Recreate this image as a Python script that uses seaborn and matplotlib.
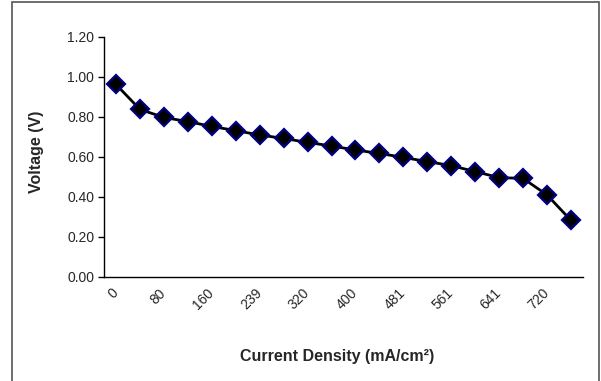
import numpy as np
import pandas as pd
import matplotlib
matplotlib.use("Agg")
import matplotlib.pyplot as plt
import seaborn as sns
from matplotlib.patches import Rectangle

# data
current_density = [0, 40, 80, 120, 160, 200, 239, 280, 320, 360,
                   400, 440, 481, 521, 561, 601, 641, 681, 720, 760]
voltage = [0.963, 0.838, 0.798, 0.777, 0.753, 0.732, 0.710, 0.693, 0.673, 0.655,
           0.635, 0.618, 0.598, 0.577, 0.557, 0.527, 0.497, 0.493, 0.410, 0.283]

df = pd.DataFrame({"cd": [str(c) for c in current_density], "v": voltage})
df["pos"] = np.arange(len(df))

sns.set_style("white")
plt.rcParams['font.family'] = ['Liberation Sans', 'DejaVu Sans']

fig = plt.figure(figsize=(6.01, 3.81), dpi=100)
W, H = 601, 381
ax_l, ax_r, ax_t, ax_b = 104, 583, 37, 277
ax = fig.add_axes([ax_l / W, 1 - ax_b / H, (ax_r - ax_l) / W, (ax_b - ax_t) / H])

sns.lineplot(data=df, x="pos", y="v", ax=ax, color="black", linewidth=2,
             marker="D", markersize=9, markerfacecolor="black",
             markeredgecolor="#000080", markeredgewidth=1.6)

n = len(df)
ax.set_xlim(-0.5, n - 0.5)
ax.set_ylim(0, 1.2)
yt = np.arange(0, 1.21, 0.2)
ax.set_yticks(yt)
ax.set_yticklabels([f"{t:.2f}" for t in yt], fontsize=10)

# category boundaries get the tick marks, every other category gets a label
ax.set_xticks(np.arange(-0.5, n, 1.0), minor=True)
ax.set_xticks(df["pos"][::2])
ax.set_xticklabels(df["cd"][::2], rotation=45, ha="right", va="center",
                   rotation_mode="anchor", fontsize=10)
ax.tick_params(axis="x", which="major", length=0, pad=10)
ax.tick_params(axis="x", which="minor", length=4, width=1, color="black", direction="out")
ax.tick_params(axis="y", length=4, width=1, color="black", direction="out", left=True, pad=3)

for s in ["top", "right"]:
    ax.spines[s].set_visible(False)
for s in ["left", "bottom"]:
    ax.spines[s].set_color("black")
    ax.spines[s].set_linewidth(1)

ax.set_xlabel("Current Density (mA/cm²)", fontsize=11.5, fontweight="bold")
ax.set_ylabel("Voltage (V)", fontsize=11.5, fontweight="bold")
ax.xaxis.set_label_coords((337 - ax_l) / (ax_r - ax_l), -(349 - ax_b) / (ax_b - ax_t))
ax.yaxis.set_label_coords((44 - ax_l) / (ax_r - ax_l), (ax_b - 152) / (ax_b - ax_t))

# outer chart frame
fig.patches.append(Rectangle((12 / W, -0.1), (599 - 12) / W, 1.1 - 2 / H,
                             transform=fig.transFigure, fill=False,
                             edgecolor="#555555", linewidth=1.2))

fig.savefig("out.png", dpi=100)
